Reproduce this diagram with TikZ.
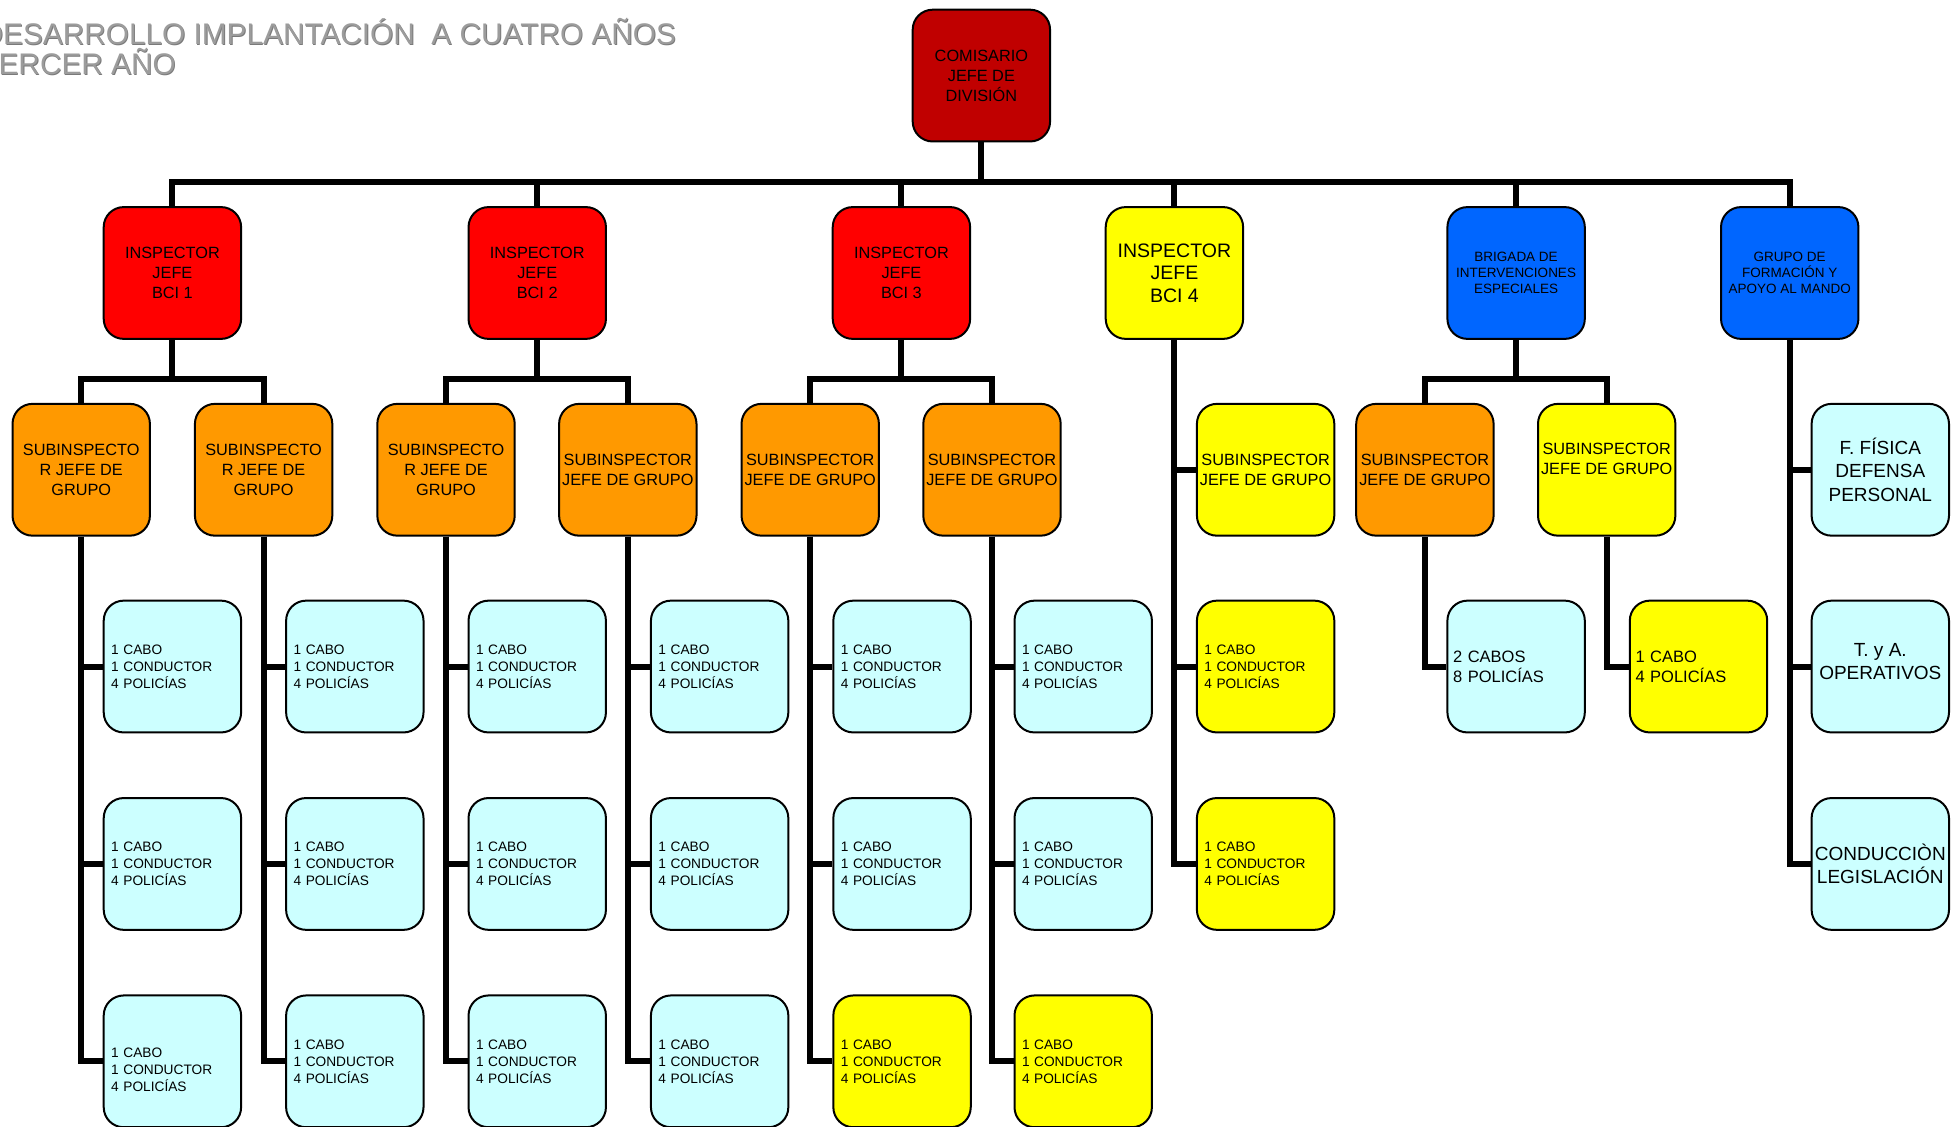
\documentclass[tikz,border=0pt]{standalone}
\usepackage{fontspec}
\setmainfont{Liberation Sans}
\usetikzlibrary{backgrounds}
\definecolor{cdark}{HTML}{C00000}
\definecolor{cred}{HTML}{FF0000}
\definecolor{corange}{HTML}{FF9900}
\definecolor{cyel}{HTML}{FFFF00}
\definecolor{cblue}{HTML}{0066FF}
\definecolor{ccyan}{HTML}{CCFFFF}
\definecolor{ctitle}{HTML}{9C9C9C}
\definecolor{ctitled}{HTML}{7A7A7A}
\begin{document}
\begin{tikzpicture}[x=0.6247pt,y=-0.6247pt,
  box/.style={draw=black, line width=1pt, rounded corners=10pt,
    minimum width=68.7pt, minimum height=65.9pt, inner sep=1pt,
    align=center, text=black, font=\fontsize{8.15}{10}\selectfont},
  cabo/.style={box, fill=ccyan, text width=61.2pt, inner xsep=3.75pt, align=left,
    font=\fontsize{6.85}{8.5}\selectfont},
  big/.style={font=\fontsize{9.5}{11.75}\selectfont},
  conn/.style={line width=3pt, line join=miter},
  ttl/.style={anchor=base west, inner sep=0pt, font=\fontsize{14.9}{16}\selectfont}]
\useasboundingbox (0,0) rectangle (1568,902);
% title
\node[ttl, text=ctitled] (t1s) at (-14.3,36.2) {DESARROLLO IMPLANTACIÓN\ \ A CUATRO AÑOS};
\node[ttl, text=ctitle] (t1) at (-15,35.5) {DESARROLLO IMPLANTACIÓN\ \ A CUATRO AÑOS};
\node[ttl, text=ctitled] (t2s) at (-15.3,60.2) {TERCER AÑO};
\node[ttl, text=ctitle] (t2) at (-16,59.5) {TERCER AÑO};
% level 1
\node[box, fill=cdark] (com) at (785.5,60.5) {COMISARIO\\JEFE DE\\DIVISIÓN};
% level 2
\node[box, fill=cred] (i1) at (138,218.5) {INSPECTOR\\JEFE\\BCI 1};
\node[box, fill=cred] (i2) at (430,218.5) {INSPECTOR\\JEFE\\BCI 2};
\node[box, fill=cred] (i3) at (721.5,218.5) {INSPECTOR\\JEFE\\BCI 3};
\node[box, fill=cyel, font=\fontsize{9.75}{11.25}\selectfont] (i4) at (940,218.5) {INSPECTOR\\JEFE\\BCI 4};
\node[box, fill=cblue, font=\fontsize{6.75}{8}\selectfont] (br) at (1213.5,218.5) {BRIGADA DE\\INTERVENCIONES\\ESPECIALES};
\node[box, fill=cblue, font=\fontsize{6.75}{8}\selectfont] (gr) at (1432.5,218.5) {GRUPO DE\\FORMACIÓN Y\\APOYO AL MANDO};
% level 3
\node[box, fill=corange] (s1) at (65,376) {SUBINSPECTO\\R JEFE DE\\GRUPO};
\node[box, fill=corange] (s2) at (211,376) {SUBINSPECTO\\R JEFE DE\\GRUPO};
\node[box, fill=corange] (s3) at (357,376) {SUBINSPECTO\\R JEFE DE\\GRUPO};
\node[box, fill=corange] (s4) at (502.5,376) {SUBINSPECTOR\\JEFE DE GRUPO};
\node[box, fill=corange] (s5) at (648.5,376) {SUBINSPECTOR\\JEFE DE GRUPO};
\node[box, fill=corange] (s6) at (794,376) {SUBINSPECTOR\\JEFE DE GRUPO};
\node[box, fill=cyel] (s7) at (1013,376) {SUBINSPECTOR\\JEFE DE GRUPO};
\node[box, fill=corange] (s8) at (1140.5,376) {SUBINSPECTOR\\JEFE DE GRUPO};
\node[box, fill=cyel, text depth=11pt] (s9) at (1286,376) {SUBINSPECTOR\\JEFE DE GRUPO};
\node[box, fill=ccyan, big] (ff) at (1505,376) {F. FÍSICA\\DEFENSA\\PERSONAL};
% level 4
\node[cabo] (c11) at (138,533.5) {1 CABO\\1 CONDUCTOR\\4 POLICÍAS};
\node[cabo] (c12) at (138,691.5) {1 CABO\\1 CONDUCTOR\\4 POLICÍAS};
\node[cabo, text depth=9pt] (c13) at (138,849.5) {1 CABO\\1 CONDUCTOR\\4 POLICÍAS};
\node[cabo] (c21) at (284,533.5) {1 CABO\\1 CONDUCTOR\\4 POLICÍAS};
\node[cabo] (c22) at (284,691.5) {1 CABO\\1 CONDUCTOR\\4 POLICÍAS};
\node[cabo] (c23) at (284,849.5) {1 CABO\\1 CONDUCTOR\\4 POLICÍAS};
\node[cabo] (c31) at (430,533.5) {1 CABO\\1 CONDUCTOR\\4 POLICÍAS};
\node[cabo] (c32) at (430,691.5) {1 CABO\\1 CONDUCTOR\\4 POLICÍAS};
\node[cabo] (c33) at (430,849.5) {1 CABO\\1 CONDUCTOR\\4 POLICÍAS};
\node[cabo] (c41) at (576,533.5) {1 CABO\\1 CONDUCTOR\\4 POLICÍAS};
\node[cabo] (c42) at (576,691.5) {1 CABO\\1 CONDUCTOR\\4 POLICÍAS};
\node[cabo] (c43) at (576,849.5) {1 CABO\\1 CONDUCTOR\\4 POLICÍAS};
\node[cabo] (c51) at (722,533.5) {1 CABO\\1 CONDUCTOR\\4 POLICÍAS};
\node[cabo] (c52) at (722,691.5) {1 CABO\\1 CONDUCTOR\\4 POLICÍAS};
\node[cabo, fill=cyel] (c53) at (722,849.5) {1 CABO\\1 CONDUCTOR\\4 POLICÍAS};
\node[cabo] (c61) at (867,533.5) {1 CABO\\1 CONDUCTOR\\4 POLICÍAS};
\node[cabo] (c62) at (867,691.5) {1 CABO\\1 CONDUCTOR\\4 POLICÍAS};
\node[cabo, fill=cyel] (c63) at (867,849.5) {1 CABO\\1 CONDUCTOR\\4 POLICÍAS};
\node[cabo, fill=cyel] (c71) at (1013,533.5) {1 CABO\\1 CONDUCTOR\\4 POLICÍAS};
\node[cabo, fill=cyel] (c72) at (1013,691.5) {1 CABO\\1 CONDUCTOR\\4 POLICÍAS};
\node[cabo, text width=63pt, inner xsep=2.85pt, font=\fontsize{8.25}{10}\selectfont] (c8) at (1213.5,533.5) {2 CABOS\\8 POLICÍAS};
\node[cabo, fill=cyel, text width=63pt, inner xsep=2.85pt, font=\fontsize{8.25}{10}\selectfont] (c9) at (1359.5,533.5) {1 CABO\\4 POLICÍAS};
\node[box, fill=ccyan, big, text depth=5pt] (ty) at (1505,533.5) {T. y A.\\OPERATIVOS};
\node[box, fill=ccyan, big] (cl) at (1505,691.5) {CONDUCCIÒN\\LEGISLACIÓN};
% connectors
\begin{pgfonlayer}{background}
\coordinate (bar0) at (785.5,146);
\coordinate (bar1) at (0,303);
\foreach \n in {i1,i2,i3,i4,br,gr}
  \draw[conn] (com.south) -- (com.south |- bar0) -| (\n.north);
\foreach \p/\a/\b in {i1/s1/s2, i2/s3/s4, i3/s5/s6, br/s8/s9} {
  \draw[conn] (\p.south) -- (\p.south |- bar1) -| (\a.north);
  \draw[conn] (\p.south) -- (\p.south |- bar1) -| (\b.north);
}
\foreach \s/\c in {s1/c11,s1/c12,s1/c13,s2/c21,s2/c22,s2/c23,s3/c31,s3/c32,s3/c33,
  s4/c41,s4/c42,s4/c43,s5/c51,s5/c52,s5/c53,s6/c61,s6/c62,s6/c63,
  i4/s7,i4/c71,i4/c72,s8/c8,s9/c9,gr/ff,gr/ty,gr/cl}
  \draw[conn] (\s.south) |- (\c.west);
\end{pgfonlayer}
\end{tikzpicture}
\end{document}
